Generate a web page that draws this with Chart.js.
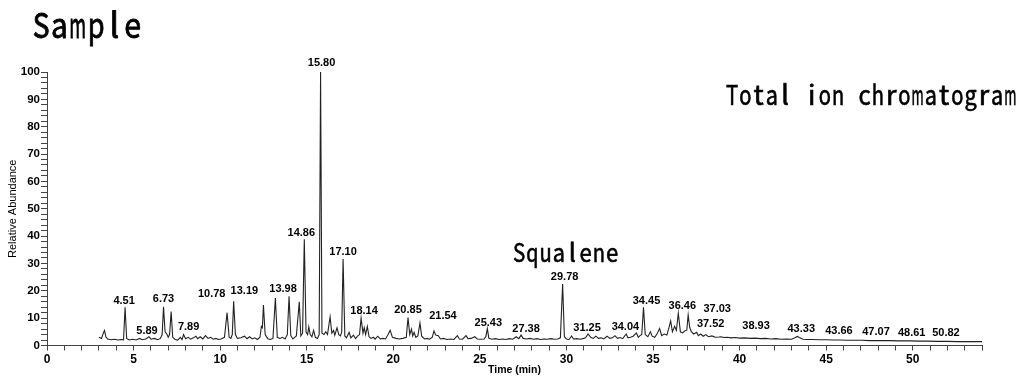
<!DOCTYPE html>
<html lang="en">

<head>
    <meta charset="UTF-8" />
    <title>Sample | Total ion chromatogram</title>
    <script src="https://cdn.jsdelivr.net/npm/chart.js"></script>
    <style>
        body { margin: 0; background: #fff; }
        .container { position: relative; width: 1029px; height: 381px; }
    </style>
</head>

<body>
    <div class="container">
        <canvas id="graficoTIC"></canvas>
    </div>

    <script>
        // retention time (min) and relative abundance (%) of the trace
        const times = [
            3.00, 3.15, 3.25, 3.32, 3.40, 3.50, 3.70, 3.90, 4.10, 4.30, 4.42, 4.51, 4.60, 4.75, 4.95,
            5.15, 5.35, 5.50, 5.70, 5.89, 6.00, 6.20, 6.40, 6.55, 6.65, 6.73, 6.82, 6.92, 7.00, 7.08,
            7.17, 7.26, 7.40, 7.55, 7.70, 7.80, 7.89, 8.00, 8.15, 8.30, 8.45, 8.60, 8.70, 8.85, 9.00,
            9.15, 9.30, 9.45, 9.60, 9.75, 9.90, 10.05, 10.25, 10.40, 10.52, 10.62, 10.70, 10.78, 10.88, 11.00,
            11.20, 11.40, 11.55, 11.70, 11.85, 12.00, 12.15, 12.30, 12.38, 12.44, 12.50, 12.60, 12.75, 12.90, 13.05,
            13.19, 13.30, 13.45, 13.60, 13.75, 13.88, 13.98, 14.08, 14.20, 14.30, 14.40, 14.57, 14.66, 14.76, 14.86,
            14.96, 15.05, 15.12, 15.20, 15.30, 15.40, 15.50, 15.62, 15.72, 15.80, 15.88, 16.00, 16.10, 16.20, 16.35,
            16.45, 16.55, 16.62, 16.75, 16.85, 16.95, 17.02, 17.10, 17.20, 17.30, 17.45, 17.55, 17.70, 17.82, 17.95,
            18.05, 18.14, 18.25, 18.32, 18.40, 18.50, 18.60, 18.72, 18.85, 18.95, 19.10, 19.25, 19.40, 19.55, 19.70,
            19.82, 19.95, 20.15, 20.35, 20.55, 20.75, 20.85, 20.95, 21.05, 21.12, 21.20, 21.30, 21.42, 21.54, 21.64,
            21.80, 21.95, 22.10, 22.25, 22.35, 22.45, 22.60, 22.72, 22.90, 23.10, 23.30, 23.50, 23.70, 23.82, 24.00,
            24.20, 24.32, 24.50, 24.70, 24.85, 25.05, 25.25, 25.35, 25.43, 25.52, 25.70, 25.90, 26.10, 26.30, 26.50,
            26.70, 26.90, 27.10, 27.25, 27.38, 27.50, 27.70, 27.90, 28.10, 28.30, 28.50, 28.70, 28.90, 29.10, 29.30,
            29.50, 29.65, 29.78, 29.88, 30.00, 30.15, 30.30, 30.40, 30.60, 30.80, 31.00, 31.10, 31.25, 31.40, 31.55,
            31.70, 31.85, 32.00, 32.15, 32.35, 32.50, 32.65, 32.80, 32.95, 33.10, 33.25, 33.45, 33.55, 33.70, 33.85,
            34.04, 34.15, 34.25, 34.35, 34.45, 34.55, 34.70, 34.85, 34.95, 35.10, 35.25, 35.38, 35.50, 35.65, 35.80,
            35.92, 36.02, 36.12, 36.25, 36.35, 36.46, 36.58, 36.70, 36.85, 36.95, 37.03, 37.12, 37.22, 37.35, 37.52,
            37.62, 37.75, 37.90, 38.05, 38.20, 38.40, 38.60, 38.80, 38.93, 39.10, 39.30, 39.50, 39.75, 40.00, 40.30,
            40.60, 40.90, 41.20, 41.50, 41.80, 42.10, 42.40, 42.70, 43.00, 43.20, 43.33, 43.45, 43.66, 43.90, 44.20,
            44.60, 45.00, 45.40, 45.80, 46.20, 46.60, 47.07, 47.50, 48.00, 48.61, 49.20, 49.80, 50.40, 50.82, 51.40,
            52.00, 52.60, 53.20, 54.00
        ];
        const abundance = [
            3.0, 2.6, 4.5, 5.5, 3.2, 2.4, 2.1, 2.3, 2.0, 2.2, 2.1, 14.0, 2.6, 2.0, 2.3,
            2.0, 2.6, 2.1, 2.4, 3.2, 2.3, 2.6, 2.1, 2.6, 4.0, 14.2, 5.0, 4.2, 3.0, 4.0,
            12.4, 3.0, 2.2, 2.0, 3.0, 2.2, 4.0, 2.5, 3.0, 2.3, 2.8, 3.4, 2.5, 3.2, 2.4,
            3.6, 2.6, 3.0, 2.3, 2.6, 2.2, 2.4, 3.0, 12.0, 3.0, 2.6, 4.0, 16.2, 4.0, 2.6,
            2.8, 3.4, 2.5, 3.2, 2.4, 2.8, 2.2, 3.0, 7.0, 6.5, 14.8, 4.0, 2.5, 2.2, 2.6,
            17.4, 3.0, 2.6, 3.0, 2.4, 4.0, 18.0, 3.6, 2.4, 3.0, 3.5, 16.0, 3.5, 4.5, 38.8,
            5.0, 4.0, 6.8, 4.0, 3.2, 5.5, 3.0, 2.6, 4.0, 100, 4.5, 4.0, 5.0, 4.0, 10.5,
            4.5, 5.5, 3.8, 6.5, 4.0, 3.5, 5.0, 31.6, 3.5, 2.8, 4.8, 2.8, 3.8, 2.5, 3.5,
            4.0, 10.0, 4.5, 6.5, 4.0, 7.0, 3.2, 2.6, 3.0, 2.3, 3.4, 2.4, 2.6, 2.4, 4.0,
            5.6, 3.0, 2.6, 2.4, 2.6, 3.0, 10.2, 4.0, 6.0, 3.5, 4.8, 3.0, 3.5, 8.2, 3.4,
            2.4, 2.6, 2.3, 3.0, 5.3, 3.8, 3.6, 2.4, 2.6, 2.2, 2.4, 2.2, 3.6, 2.4, 2.3,
            3.6, 2.5, 2.6, 3.2, 2.4, 2.3, 2.4, 3.4, 6.2, 2.6, 2.3, 2.5, 2.2, 2.4, 2.2,
            2.5, 2.3, 3.2, 2.5, 3.8, 2.6, 2.4, 2.6, 2.3, 2.5, 2.2, 2.4, 2.3, 2.5, 2.3,
            2.4, 2.8, 22.5, 3.2, 2.4, 2.2, 3.5, 2.4, 2.5, 2.3, 2.6, 2.8, 4.2, 3.0, 2.6,
            3.4, 2.6, 2.8, 2.4, 3.4, 2.6, 2.8, 3.6, 2.6, 2.9, 2.5, 4.2, 2.8, 3.0, 3.4,
            4.6, 3.0, 3.6, 4.0, 14.0, 4.0, 3.2, 5.0, 3.4, 3.0, 4.5, 6.2, 3.6, 4.2, 3.8,
            6.5, 9.0, 5.0, 7.0, 5.5, 11.8, 5.0, 4.6, 5.4, 5.6, 11.2, 6.5, 5.0, 4.2, 4.8,
            3.6, 4.2, 3.4, 4.0, 3.2, 3.5, 3.0, 3.1, 3.2, 2.9, 3.0, 2.8, 2.9, 2.7, 2.8,
            2.6, 2.7, 2.5, 2.6, 2.4, 2.5, 2.3, 2.4, 2.3, 2.8, 3.3, 2.9, 2.3, 2.2, 2.2,
            2.1, 2.1, 2.0, 2.0, 1.9, 1.9, 1.9, 1.8, 1.8, 1.8, 1.7, 1.7, 1.6, 1.6, 1.5,
            1.5, 1.4, 1.4, 1.4
        ];

        // labelled retention times
        const peakTimes = [
            4.51, 5.89, 6.73, 7.89, 10.78, 13.19, 13.98, 14.86, 15.80, 17.10, 18.14, 20.85, 21.54, 25.43,
            27.38, 29.78, 31.25, 34.04, 34.45, 36.46, 37.03, 37.52, 38.93, 43.33, 43.66, 47.07, 48.61, 50.82
        ];

        // where each label sits relative to its peak top (px)
        const labelShift = [
            [-1, -6], [-2, -6], [0, -8], [5, -8], [-22, -7], [-31, -7], [-6, -7], [-3, -6], [1, -9], [0, -7],
            [3, -7], [0, -8], [23, -7], [1, -6], [5, -6], [2, -7], [-1, -6], [-11, -6], [3, -6], [4, -7],
            [29, -6], [14, -8], [35, -11], [4, -8], [36, -8], [14, -8], [23, -8], [19, -8]
        ];

        const fonte = '"Liberation Sans", Arial, sans-serif';

        // half-width gothic style text: one fixed cell per character
        function textoMono(ctx, texto, x, base, tamanho, celula) {
            ctx.font = tamanho + 'px "Noto Sans CJK JP", sans-serif';
            ctx.textAlign = 'center';
            ctx.textBaseline = 'alphabetic';
            ctx.strokeStyle = '#000';
            ctx.lineWidth = tamanho * 0.025;
            [...texto].forEach((ch, i) => {
                if (ch === ' ') return;
                const w = ctx.measureText(ch).width;
                const sx = Math.min(1, celula * 0.92 / w);
                ctx.save();
                ctx.translate(x + celula * (i + 0.5), base);
                ctx.scale(sx, 1);
                ctx.fillText(ch, 0, 0);
                ctx.strokeText(ch, 0, 0);
                ctx.restore();
            });
        }

        const rotulos = {
            id: 'rotulos',
            afterDatasetsDraw(chart) {
                const { ctx, scales: { x, y } } = chart;
                ctx.save();
                ctx.fillStyle = '#000';

                // peak labels
                ctx.font = 'bold 11px ' + fonte;
                ctx.textAlign = 'center';
                ctx.textBaseline = 'middle';
                peakTimes.forEach((t, i) => {
                    const k = times.indexOf(t);
                    if (k < 0) return;
                    const [dx, dy] = labelShift[i];
                    ctx.fillText(t.toFixed(2), x.getPixelForValue(t) + dx, y.getPixelForValue(abundance[k]) + dy);
                });

                // squalene marker above the 29.78 peak
                const kq = times.indexOf(29.78);
                const qx = x.getPixelForValue(29.78) + 3;
                const qy = y.getPixelForValue(abundance[kq]) - 22;
                textoMono(ctx, 'Squalene', qx - 4 * 13.3, qy, 25, 13.3);

                textoMono(ctx, 'Sample', 32, 38, 34, 18.3);
                textoMono(ctx, 'Total ion chromatogram', 725.5, 105, 27, 13.25);
                ctx.restore();
            }
        };

        const ctx = document.getElementById('graficoTIC').getContext('2d');
        new Chart(ctx, {
            type: 'line',
            data: {
                datasets: [{
                    data: times.map((t, i) => ({ x: t, y: abundance[i] })),
                    borderColor: '#222',
                    borderWidth: 1.1,
                    pointRadius: 0,
                    tension: 0,
                    fill: false,
                    clip: 4
                }]
            },
            options: {
                responsive: true,
                maintainAspectRatio: false,
                animation: false,
                layout: { padding: { left: 0, right: 47, top: 72, bottom: 0 } },
                plugins: {
                    legend: { display: false },
                    tooltip: { enabled: false }
                },
                scales: {
                    x: {
                        type: 'linear',
                        min: 0,
                        max: 54,
                        border: { color: '#444', width: 1 },
                        grid: { drawOnChartArea: false, drawTicks: true, tickLength: 5, color: '#444' },
                        ticks: {
                            stepSize: 1,
                            autoSkip: false,
                            maxRotation: 0,
                            padding: 2,
                            color: '#000',
                            font: { family: fonte, size: 12, weight: 'bold' },
                            callback: v => (v % 5 === 0 ? v : '')
                        },
                        title: {
                            display: true,
                            text: 'Time (min)',
                            color: '#000',
                            font: { family: fonte, size: 10.5, weight: 'bold' },
                            padding: { top: 0, bottom: 5 }
                        },
                        afterFit: s => { s.height = 35.5; }
                    },
                    y: {
                        min: 0,
                        max: 100,
                        border: { color: '#444', width: 1 },
                        grid: { drawOnChartArea: false, drawTicks: true, tickLength: 6, color: '#444' },
                        ticks: {
                            stepSize: 2,
                            autoSkip: false,
                            padding: 1,
                            color: '#000',
                            font: { family: fonte, size: 11.5, weight: 'bold' },
                            callback: v => (v % 10 === 0 ? v : '')
                        },
                        title: {
                            display: true,
                            text: 'Relative Abundance',
                            color: '#000',
                            font: { family: fonte, size: 11 },
                            padding: { top: 6, bottom: 0 }
                        },
                        afterFit: s => { s.width = 47; }
                    }
                }
            },
            plugins: [rotulos]
        });
    </script>
</body>
</html>
